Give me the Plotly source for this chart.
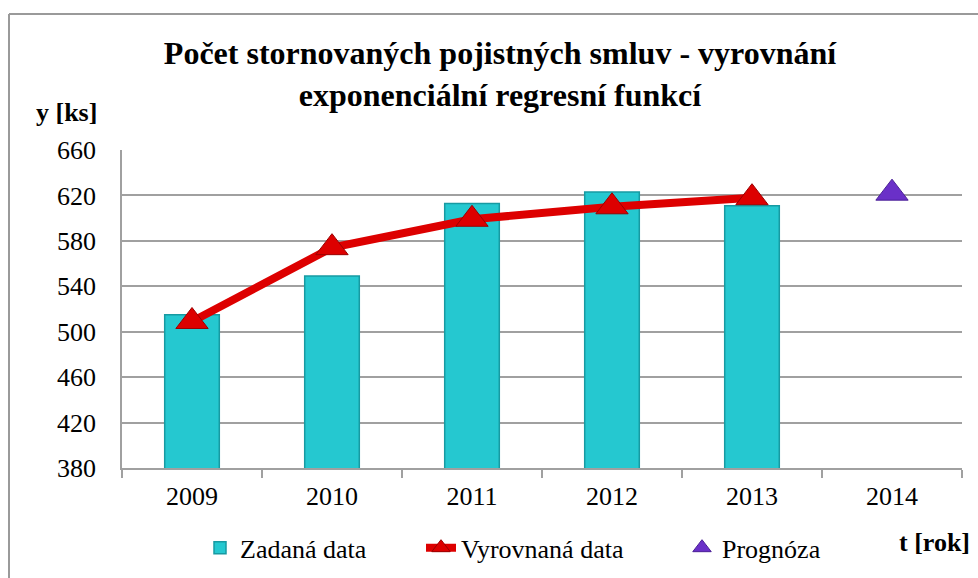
import plotly.graph_objects as go

years = ["2009", "2010", "2011", "2012", "2013", "2014"]
given_years = ["2009", "2010", "2011", "2012", "2013"]
given_values = [515, 549, 613, 623, 611]
fitted_values = [509, 574, 599, 610, 618]
forecast_years = ["2014"]
forecast_values = [622]
y_ticks = [380, 420, 460, 500, 540, 580, 620, 660]

FONT = "Liberation Serif"
GRID = "#A0A0A0"

fig = go.Figure()
fig.add_trace(go.Bar(
    x=given_years, y=given_values, name="Zadaná data",
    marker=dict(color="#25C8D0", line=dict(color="#179AA2", width=1.5)),
    width=0.39, legend="legend",
))
fig.add_trace(go.Scatter(
    x=given_years, y=fitted_values, name="Vyrovnaná data",
    mode="lines+markers",
    line=dict(color="#DD0000", width=8),
    marker=dict(symbol="triangle-up", size=28, color="#DD0000",
                line=dict(color="#9A0000", width=1)),
    legend="legend",
))
fig.add_trace(go.Scatter(
    x=forecast_years, y=forecast_values, name="Prognóza",
    mode="markers",
    marker=dict(symbol="triangle-up", size=28, color="#6A30C8",
                line=dict(color="#4A1F96", width=1)),
    legend="legend2",
))

legend_common = dict(
    orientation="h", yanchor="top", y=-0.177,
    font=dict(family=FONT, size=26, color="black"),
    traceorder="normal", itemwidth=30, bgcolor="rgba(0,0,0,0)",
)

fig.update_layout(
    width=978, height=578,
    margin=dict(l=122, r=16, t=150, b=110, autoexpand=False),
    paper_bgcolor="white", plot_bgcolor="white",
    font=dict(family=FONT, size=26, color="black"),
    title=dict(
        text="<b>Počet stornovaných pojistných smluv - vyrovnání<br>exponenciální regresní funkcí</b>",
        x=500 / 978, xanchor="center", xref="container",
        y=1 - 64 / 578, yanchor="top", yref="container",
        font=dict(family=FONT, size=32, color="black"),
    ),
    xaxis=dict(
        type="category", categoryorder="array", categoryarray=years,
        range=[-0.5, 5.5],
        showline=True, linecolor=GRID, linewidth=1.5,
        ticks="outside", ticklen=8, tickcolor=GRID, tickwidth=1.5,
        tickson="boundaries",
        showgrid=False,
        ticklabelstandoff=4,
        tickfont=dict(family=FONT, size=26, color="black"),
    ),
    yaxis=dict(
        range=[380, 660], tickvals=y_ticks,
        showline=True, linecolor=GRID, linewidth=1.5,
        showgrid=True, gridcolor=GRID, gridwidth=1.5,
        ticks="", ticklabelstandoff=19,
        tickfont=dict(family=FONT, size=26, color="black"),
        zeroline=False,
    ),
    legend=dict(legend_common, x=(200 - 122) / 840, xanchor="left",
                entrywidth=176),
    legend2=dict(legend_common, x=(682 - 122) / 840, xanchor="left"),
    showlegend=True,
    bargap=0.6,
)

fig.add_annotation(text="<b>y [ks]</b>", xref="paper", yref="paper",
                   x=(66 - 122) / 840, y=(468 - 113) / 318,
                   xanchor="center", yanchor="middle",
                   showarrow=False, font=dict(family=FONT, size=26, color="black"))
fig.add_annotation(text="<b>t [rok]</b>", xref="paper", yref="paper",
                   x=(934 - 122) / 840, y=(468 - 542) / 318,
                   xanchor="center", yanchor="middle",
                   showarrow=False, font=dict(family=FONT, size=26, color="black"))

# outer chart-area border (left and top edges visible in the reference)
fig.add_shape(type="line", xref="paper", yref="paper",
              x0=(9 - 122) / 840, x1=(990 - 122) / 840,
              y0=(468 - 14) / 318, y1=(468 - 14) / 318,
              line=dict(color="#9A9A9A", width=2))
fig.add_shape(type="line", xref="paper", yref="paper",
              x0=(9 - 122) / 840, x1=(9 - 122) / 840,
              y0=(468 - 14) / 318, y1=(468 - 590) / 318,
              line=dict(color="#9A9A9A", width=2))

fig.write_html("out.html", config={"displayModeBar": False},
               post_script="document.body.style.margin='0';")
